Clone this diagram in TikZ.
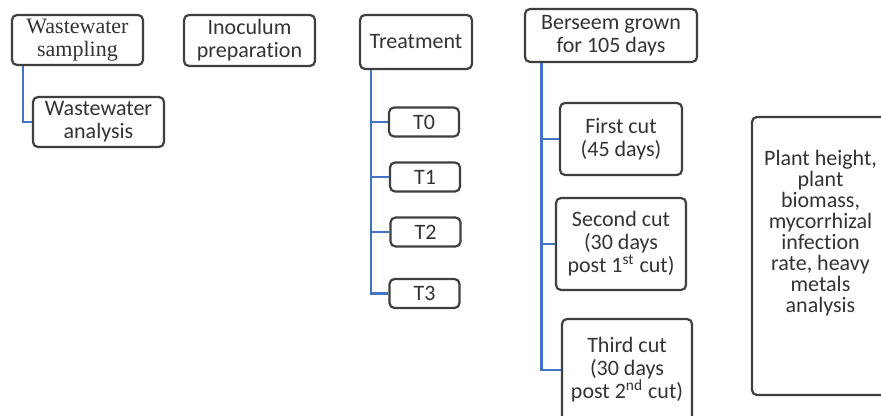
\documentclass[tikz,border=0pt]{standalone}
\usepackage{fontspec}
\setmainfont[Ligatures=NoCommon]{Carlito}
\newfontfamily\timesfont{Liberation Serif}
\usepackage{tikz}
\usetikzlibrary{positioning}
\definecolor{boxline}{HTML}{3F3F3F}
\definecolor{linkblue}{HTML}{4472C4}

\begin{document}
\begin{tikzpicture}[x=0.5pt,y=-0.5pt]
        \tikzstyle{every node} = [rectangle, rounded corners=2.5pt, draw=boxline, line width=1.1pt, fill=white,
            align=center, inner sep=0pt, font=\fontsize{11}{11.5}\selectfont, text=black!80]
        \tikzstyle{link} = [draw=linkblue, line width=1.1pt]
        \useasboundingbox (0,0) rectangle (881,416);
        \clip (0,0) rectangle (881,416);
        \node[minimum width=65.5pt, minimum height=25pt] (ws) at (77.5,40) {\timesfont Wastewater\\ \timesfont sampling};
        \node[minimum width=65.5pt, minimum height=25pt] (wa) at (98.5,122) {Wastewater\\analysis};
        \node[minimum width=65.5pt, minimum height=25.5pt] (in) at (249.5,40.5) {Inoculum\\preparation};
        \node[minimum width=56pt, minimum height=27pt] (tr) at (416,42) {Treatment};
        \node[minimum width=35pt, minimum height=14.5pt] (t0) at (424,122) {T0};
        \node[minimum width=35pt, minimum height=14.5pt] (t1) at (425,177) {T1};
        \node[minimum width=35pt, minimum height=14.5pt] (t2) at (425.5,232) {T2};
        \node[minimum width=35pt, minimum height=14.5pt] (t3) at (424.5,293.5) {T3};
        \node[minimum width=86pt, minimum height=26.5pt] (bg) at (611,35.5) {Berseem grown\\for 105 days};
        \node[minimum width=61pt, minimum height=36pt] (c1) at (621,139) {First cut\\(45 days)};
        \node[minimum width=65pt, minimum height=46pt] (c2) at (621,244) {Second cut\\(30 days\\post 1\textsuperscript{st} cut)};
        \node[minimum width=65pt, minimum height=51pt] (c3) at (627,370) {Third cut\\(30 days\\post 2\textsuperscript{nd} cut)};
        \node[minimum width=69pt, minimum height=139pt] (rs) at (821,256) {};
        \node[draw=none, fill=none, font=\fontsize{11}{10.5}\selectfont] (rt) at (820.5,233)
            {Plant height,\\plant\\biomass,\\mycorrhizal\\infection\\rate, heavy\\metals\\analysis};
        \draw[link] ([xshift=6pt]ws.south west) |- (wa.west);
        \foreach \to in {t0, t1, t2, t3}
            \draw[link] ([xshift=6pt]tr.south west) |- (\to.west);
        \foreach \to in {c1, c2, c3}
            \draw[link] ([xshift=8.75pt]bg.south west) |- (\to.west);
\end{tikzpicture}
\end{document}
